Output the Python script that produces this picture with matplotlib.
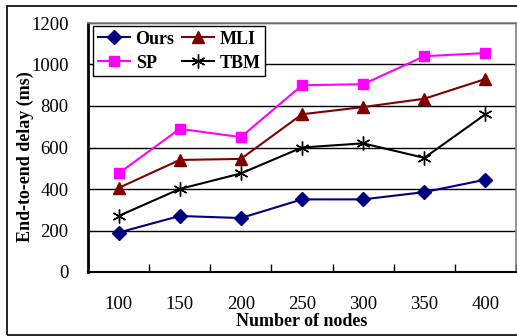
import matplotlib.pyplot as plt
from matplotlib.patches import Rectangle

nodes = ["100", "150", "200", "250", "300", "350", "400"]
ours = [190, 270, 260, 350, 350, 385, 445]
mli = [405, 540, 545, 760, 795, 835, 930]
sp = [475, 690, 650, 900, 905, 1040, 1055]
tbm = [270, 400, 475, 600, 620, 550, 760]

plt.rcParams['font.family'] = ['Liberation Serif', 'DejaVu Serif']

W, H = 517, 336
fig = plt.figure(figsize=(W / 100, H / 100), dpi=100)

# outer chart frame
fig.patches.append(Rectangle((7 / W, 1 - 335 / H), 520 / W, 329 / H,
                             transform=fig.transFigure, fill=False,
                             edgecolor='black', linewidth=1.2))

left, right, top, bottom = 88, 516, 23, 272
ax = fig.add_axes([left / W, 1 - bottom / H, (right - left) / W, (bottom - top) / H])

x = range(len(nodes))
l_ours, = ax.plot(x, ours, color='#000080', marker='D', markersize=7, linewidth=1.5, label='Ours')
l_mli, = ax.plot(x, mli, color='#800000', marker='^', markersize=8.5, linewidth=1.5, label='MLI')
l_sp, = ax.plot(x, sp, color='#FF00FF', marker='s', markersize=7.5, linewidth=1.5, label='SP')
l_tbm, = ax.plot(x, tbm, color='black', marker=(6, 2, 0), markersize=10, markeredgewidth=1.0,
                 linewidth=1.5, label='TBM')

ax.set_xlim(-0.5, 6.5)
ax.set_ylim(0, 1200)
ax.set_yticks(range(0, 1201, 200))
ax.yaxis.grid(True, color='black', linewidth=1.0)
ax.set_axisbelow(True)

ax.set_xticks([i + 0.5 for i in range(-1, 7)], minor=False)
ax.set_xticklabels([])
ax.set_xticks(list(x), minor=True)
ax.set_xticklabels(nodes, minor=True, fontsize=13.5)
ax.tick_params(axis='x', which='major', direction='in', length=6, width=1, color='black')
ax.tick_params(axis='x', which='minor', length=0, pad=17)
ax.tick_params(axis='y', direction='in', length=5, labelsize=13.5, pad=14)

for s in ['top', 'right']:
    ax.spines[s].set_color('#808080')
    ax.spines[s].set_linewidth(1.2)
ax.spines['left'].set_linewidth(2)
ax.spines['bottom'].set_linewidth(1.5)

ax.set_xlabel('Number of nodes', fontsize=13, fontweight='bold')
ax.set_ylabel('End-to-end delay (ms)', fontsize=13, fontweight='bold')
ax.xaxis.set_label_coords(0.5, -0.163)
ax.yaxis.set_label_coords(-0.126, 0.465)

# matplotlib fills legend columns first, so order gives rows Ours/MLI and SP/TBM
leg = ax.legend([l_ours, l_sp, l_mli, l_tbm], ['Ours', 'SP', 'MLI', 'TBM'],
                loc='upper left', ncol=2, bbox_to_anchor=(0.012, 0.988),
                prop={'weight': 'bold', 'size': 13}, frameon=True, fancybox=False,
                handlelength=1.8, handletextpad=0.3, columnspacing=0.4,
                labelspacing=0.4, borderpad=0.25, borderaxespad=0)
leg.get_frame().set_edgecolor('black')
leg.get_frame().set_linewidth(1.0)
leg.get_frame().set_alpha(1)

fig.savefig('out.png', dpi=100)
